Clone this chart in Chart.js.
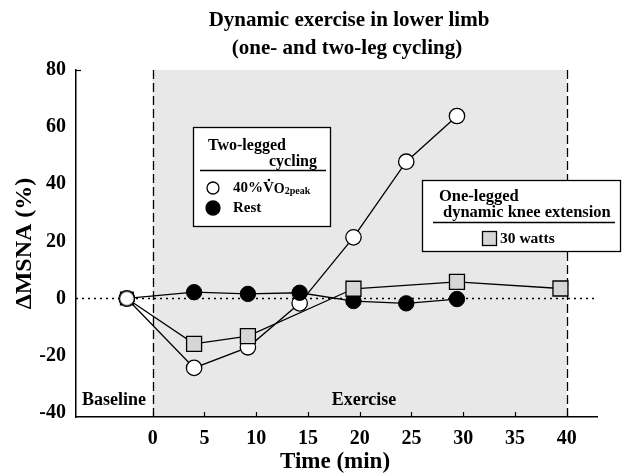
<!DOCTYPE html>
<html>
<head>
<meta charset="utf-8">
<script src="https://cdn.jsdelivr.net/npm/chart.js"></script>
<style>
  html, body { margin: 0; padding: 0; background: #fff; }
  #wrap { width: 625px; height: 476px; position: relative; }
</style>
</head>
<body>
<div id="wrap"><canvas id="myChart"></canvas></div>
<script>
// Data (time in min, -2.5 = baseline point)
var timeCycling = [-2.5, 4.0, 9.2, 14.2, 19.4, 24.5, 29.4];
var vo2Values = [0, -24.3, -17.1, -1.7, 21.4, 47.9, 63.9];
var restValues = [0, 2.2, 1.6, 2.0, -0.9, -1.7, -0.2];
var timeKnee = [-2.5, 4.0, 9.2, 19.4, 29.4, 39.4];
var kneeValues = [0, -15.9, -13.2, 3.4, 5.8, 3.5];
var xTicks = [0, 5, 10, 15, 20, 25, 30, 35, 40];
var yTicks = [-40, -20, 0, 20, 40, 60, 80];

var SERIF = '"Liberation Serif", "Times New Roman", serif';

function toXY(xs, ys) {
  return xs.map(function (x, i) { return { x: x, y: ys[i] }; });
}

// marker at the baseline: black square with an open circle on top
var baseMark = document.createElement('canvas');
baseMark.width = 18; baseMark.height = 18;
var bm = baseMark.getContext('2d');
bm.fillStyle = '#000';
bm.fillRect(2, 2, 14, 14);
bm.beginPath();
bm.arc(9, 9, 7.4, 0, Math.PI * 2);
bm.fillStyle = '#fff';
bm.fill();
bm.lineWidth = 1.2;
bm.strokeStyle = '#000';
bm.stroke();

var kneeStyles = timeKnee.map(function (t, i) { return i === 0 ? baseMark : 'rect'; });

function txt(ctx, s, x, y, size, align) {
  ctx.font = 'bold ' + size + 'px ' + SERIF;
  ctx.textAlign = align || 'left';
  ctx.textBaseline = 'middle';
  ctx.fillStyle = '#000';
  ctx.fillText(s, x, y);
  return ctx.measureText(s).width;
}

var decor = {
  id: 'decor',
  beforeDraw: function (chart) {
    var ctx = chart.ctx, a = chart.chartArea, x = chart.scales.x;
    ctx.save();
    ctx.fillStyle = '#e7e8e7';
    ctx.fillRect(x.getPixelForValue(0), a.top, x.getPixelForValue(40) - x.getPixelForValue(0), a.bottom - a.top);
    ctx.restore();
  },
  beforeDatasetsDraw: function (chart) {
    var ctx = chart.ctx, a = chart.chartArea, x = chart.scales.x, y = chart.scales.y;
    ctx.save();
    ctx.strokeStyle = '#000';
    // phase borders
    ctx.lineWidth = 1.3;
    ctx.setLineDash([9, 4]);
    [0, 40].forEach(function (v) {
      var px = Math.round(x.getPixelForValue(v)) + 0.5;
      ctx.beginPath(); ctx.moveTo(px, a.top); ctx.lineTo(px, a.bottom); ctx.stroke();
    });
    // zero line
    ctx.lineWidth = 1.5;
    ctx.setLineDash([2, 4]);
    var py = y.getPixelForValue(0);
    ctx.beginPath(); ctx.moveTo(a.left, py); ctx.lineTo(a.right, py); ctx.stroke();
    ctx.setLineDash([]);
    // inward ticks
    ctx.lineWidth = 1.2;
    xTicks.forEach(function (v) {
      var px = Math.round(x.getPixelForValue(v)) + 0.5;
      ctx.beginPath(); ctx.moveTo(px, a.bottom); ctx.lineTo(px, a.bottom - 5); ctx.stroke();
    });
    ctx.beginPath(); ctx.moveTo(a.left, a.top + 0.5); ctx.lineTo(a.left + 5, a.top + 0.5); ctx.stroke();
    txt(ctx, 'Baseline', 114, 400, 18, 'center');
    txt(ctx, 'Exercise', 364, 400, 18, 'center');
    ctx.restore();
  },
  afterDatasetsDraw: function (chart) {
    var ctx = chart.ctx;
    ctx.save();
    ctx.strokeStyle = '#000';
    ctx.lineWidth = 1.3;
    // legend box 1
    ctx.fillStyle = '#fff';
    ctx.fillRect(193, 127, 138, 100);
    ctx.strokeRect(193.5, 127.5, 137, 99);
    txt(ctx, 'Two-legged', 208, 146, 16);
    txt(ctx, 'cycling', 317, 162, 16, 'right');
    ctx.beginPath(); ctx.moveTo(200, 170.5); ctx.lineTo(326, 170.5); ctx.stroke();
    ctx.beginPath(); ctx.arc(213, 188, 6, 0, Math.PI * 2);
    ctx.fillStyle = '#fff'; ctx.fill(); ctx.stroke();
    var w = txt(ctx, '40%', 233, 188, 15);
    var vx = 233 + w;
    var vw = txt(ctx, 'V', vx, 188, 15);
    ctx.beginPath(); ctx.arc(vx + vw / 2 + 0.5, 180, 1.2, 0, Math.PI * 2); ctx.fillStyle = '#000'; ctx.fill();
    var ow = txt(ctx, 'O', vx + vw, 189, 14);
    txt(ctx, '2peak', vx + vw + ow, 191, 10);
    ctx.beginPath(); ctx.arc(213, 208, 7, 0, Math.PI * 2);
    ctx.fillStyle = '#000'; ctx.fill(); ctx.stroke();
    txt(ctx, 'Rest', 233, 208, 15);
    // legend box 2
    ctx.fillStyle = '#fff';
    ctx.fillRect(422, 180, 199, 72);
    ctx.strokeRect(422.5, 180.5, 198, 71);
    txt(ctx, 'One-legged', 439, 197, 16.5);
    txt(ctx, 'dynamic knee extension', 443, 213, 16.5);
    ctx.beginPath(); ctx.moveTo(433, 222.5); ctx.lineTo(615, 222.5); ctx.stroke();
    ctx.fillStyle = '#d6d6d6';
    ctx.fillRect(482.5, 231.5, 14, 14);
    ctx.strokeRect(482.5, 231.5, 14, 14);
    txt(ctx, '30 watts', 500, 239, 15.5);
    ctx.restore();
  },
  afterDraw: function (chart) {
    var ctx = chart.ctx;
    ctx.save();
    txt(ctx, 'Dynamic exercise in lower limb', 349, 21, 21, 'center');
    txt(ctx, '(one- and two-leg cycling)', 347, 49, 21, 'center');
    txt(ctx, 'Time (min)', 335, 462, 23, 'center');
    ctx.restore();
  }
};

var tickFont = { family: SERIF, size: 20, weight: 'bold' };

var ctx = document.getElementById('myChart').getContext('2d');
var myChart = new Chart(ctx, {
  type: 'scatter',
  data: {
    datasets: [
      {
        label: '30 watts',
        data: toXY(timeKnee, kneeValues),
        showLine: true,
        borderColor: '#000',
        borderWidth: 1.3,
        pointStyle: kneeStyles,
        pointRadius: 10.6,
        pointBackgroundColor: '#d6d6d6',
        pointBorderColor: '#000',
        pointBorderWidth: 1.3,
        order: 1
      },
      {
        label: 'Rest',
        data: toXY(timeCycling, restValues),
        showLine: true,
        borderColor: '#000',
        borderWidth: 1.3,
        pointStyle: 'circle',
        pointRadius: 7.7,
        pointBackgroundColor: '#000',
        pointBorderColor: '#000',
        pointBorderWidth: 1,
        order: 2
      },
      {
        label: '40% VO2peak',
        data: toXY(timeCycling, vo2Values),
        showLine: true,
        borderColor: '#000',
        borderWidth: 1.3,
        pointStyle: 'circle',
        pointRadius: 7.7,
        pointBackgroundColor: '#fff',
        pointBorderColor: '#000',
        pointBorderWidth: 1.3,
        order: 3
      }
    ]
  },
  options: {
    responsive: true,
    maintainAspectRatio: false,
    animation: false,
    layout: { padding: { top: 70, right: 28, bottom: 0, left: 0 } },
    plugins: {
      legend: { display: false },
      tooltip: { enabled: false },
      title: { display: false }
    },
    scales: {
      x: {
        type: 'linear',
        min: -7.41,
        max: 42.93,
        afterBuildTicks: function (s) { s.ticks = xTicks.map(function (v) { return { value: v }; }); },
        afterFit: function (s) { s.height = 59; },
        grid: { display: false, drawTicks: false },
        border: { display: true, color: '#000', width: 1.5 },
        ticks: { color: '#000', font: tickFont, padding: 10, maxRotation: 0, autoSkip: false }
      },
      y: {
        type: 'linear',
        min: -41.5,
        max: 80,
        afterBuildTicks: function (s) { s.ticks = yTicks.map(function (v) { return { value: v }; }); },
        afterFit: function (s) { s.width = 76; },
        grid: { display: false, drawTicks: false },
        border: { display: true, color: '#000', width: 1.5 },
        ticks: { color: '#000', font: tickFont, padding: 10, autoSkip: false },
        title: {
          display: true,
          text: 'ΔMSNA (%)',
          color: '#000',
          font: { family: SERIF, size: 24, weight: 'bold' },
          padding: { top: 10, bottom: 0 }
        }
      }
    }
  },
  plugins: [decor]
});
</script>
</body>
</html>
